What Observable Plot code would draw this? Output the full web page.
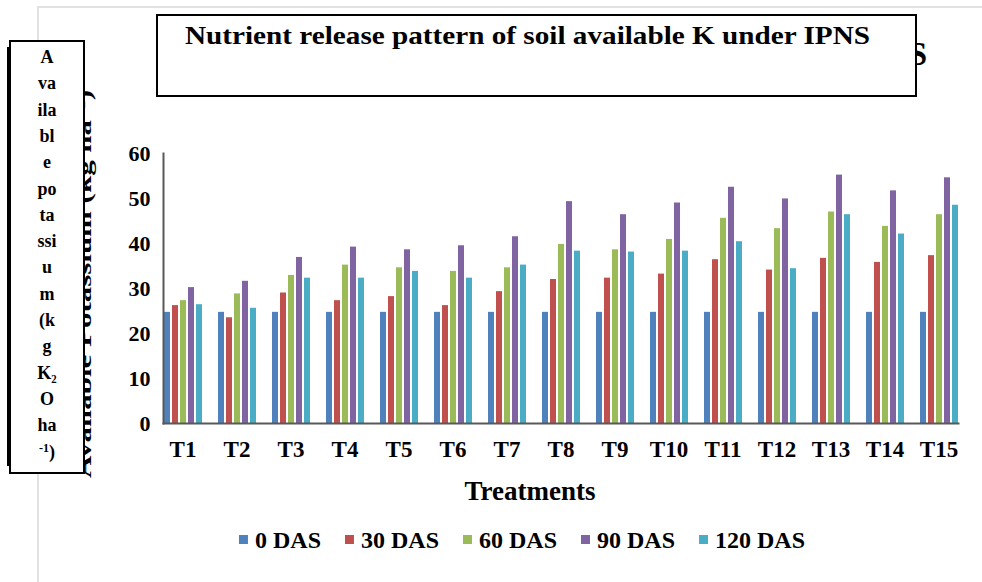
<!DOCTYPE html>
<html><head><meta charset="utf-8">
<script src="https://cdn.jsdelivr.net/npm/d3@7"></script>
<script src="https://cdn.jsdelivr.net/npm/@observablehq/plot@0.6"></script>
<style>
body{margin:0;background:#fff;}
#wrap{position:relative;width:982px;height:582px;overflow:hidden;background:#fff;}
#chart{position:absolute;left:0;top:0;}
#overlay{position:absolute;left:0;top:0;pointer-events:none;}
</style></head><body>
<div id="wrap"><div id="chart"></div><svg id="overlay" width="982" height="582"></svg></div>
<script>
const treatments = ["T1","T2","T3","T4","T5","T6","T7","T8","T9","T10","T11","T12","T13","T14","T15"];
const series = ["0 DAS","30 DAS","60 DAS","90 DAS","120 DAS"];
const das0   = [24.7,24.7,24.7,24.7,24.7,24.7,24.7,24.7,24.7,24.7,24.7,24.7,24.7,24.7,24.7];
const das30  = [26.2,23.5,29.0,27.3,28.2,26.2,29.3,32.0,32.3,33.2,36.4,34.1,36.7,35.8,37.3];
const das60  = [27.3,28.8,32.9,35.2,34.6,33.8,34.6,39.8,38.6,40.9,45.6,43.3,47.0,43.8,46.4];
const das90  = [30.2,31.6,36.9,39.2,38.6,39.5,41.5,49.3,46.4,49.0,52.5,49.9,55.2,51.7,54.6];
const das120 = [26.4,25.6,32.3,32.3,33.8,32.3,35.2,38.3,38.1,38.3,40.4,34.4,46.4,42.1,48.5];
const yTicks = [0,10,20,30,40,50,60];
const colors = ["#4F81BD","#C0504D","#9BBB59","#8064A2","#4BACC6"];
const titleText = "Nutrient release pattern of soil available K under IPNS";
const xLabel = "Treatments";
const yLabelLines = ["A","va","ila","bl","e","po","ta","ssi","u","m","(k","g","K\u2082","O","ha"];
const ghostYLabel = "Available Potassium (kg ha\u207B\u00B9)";

const values = [das0, das30, das60, das90, das120];
const data = treatments.flatMap((t, i) => series.map((s, j) => ({treatment: t, series: s, value: values[j][i]})));
const FONT = "Liberation Serif";

const chart = Plot.plot({
  width: 982, height: 510,
  marginTop: 153, marginBottom: 87, marginLeft: 155, marginRight: 16,
  style: {background: "transparent", fontFamily: FONT, color: "#000"},
  fx: {domain: treatments, paddingInner: 0.27, paddingOuter: 0.135, label: null},
  x: {domain: series, paddingInner: 0.25, paddingOuter: 0, axis: null},
  y: {domain: [0, 60]},
  color: {domain: series, range: colors},
  marks: [
    Plot.barY(data, {fx: "treatment", x: "series", y: "value", fill: "series"}),
    Plot.frame({facet: "super", anchor: "bottom", stroke: "#595959", strokeWidth: 2}),
    Plot.frame({facet: "super", anchor: "left", stroke: "#595959", strokeWidth: 2}),
    Plot.axisY({ticks: yTicks, tickSize: 0, tickPadding: 13, label: null,
      fontSize: 22, fontWeight: "bold", fontFamily: FONT, fill: "#000"}),
    Plot.axisFx({anchor: "bottom", tickSize: 0, tickPadding: 17, label: null,
      fontSize: 23, fontWeight: "bold", fontFamily: FONT, fill: "#000"})
  ]
});
document.getElementById("chart").appendChild(chart);
d3.select(chart).selectAll("text").style("font-family", FONT).style("font-weight", "bold");

// overlay: page frame, boxes, labels, legend
const svg = d3.select("#overlay");
function txt(sel) { return sel.append("text").style("font-family", FONT).style("font-weight", "bold"); }
svg.append("path").attr("d", "M38,582V7H982").attr("fill", "none").attr("stroke", "#d9d9d9").attr("stroke-width", 1.5);

// ghost texts (partially hidden behind boxes)
txt(svg).attr("transform", "translate(91,478) rotate(-90)")
  .style("font-size", "21px").attr("textLength", 388).attr("lengthAdjust", "spacingAndGlyphs")
  .text(ghostYLabel);
txt(svg).attr("x", 927).attr("y", 65).attr("text-anchor", "end").style("font-size", "33px").text("IPNS");

// title box
svg.append("rect").attr("x", 157).attr("y", 15).attr("width", 759).attr("height", 81)
  .attr("fill", "#fff").attr("stroke", "#000").attr("stroke-width", 2);
txt(svg).attr("x", 185).attr("y", 44).style("font-size", "26px")
  .attr("textLength", 685).attr("lengthAdjust", "spacingAndGlyphs").text(titleText);

// y label box
svg.append("line").attr("x1", 8).attr("x2", 8).attr("y1", 47).attr("y2", 466).attr("stroke", "#000").attr("stroke-width", 2);
svg.append("rect").attr("x", 10).attr("y", 41).attr("width", 74).attr("height", 432)
  .attr("fill", "#fff").attr("stroke", "#000").attr("stroke-width", 2);
yLabelLines.forEach((l, i) => {
  txt(svg).attr("x", 47).attr("y", 63 + 26.3 * i).attr("text-anchor", "middle")
    .style("font-size", "18px").text(l);
});
const last = txt(svg).attr("x", 47).attr("y", 458).attr("text-anchor", "middle").style("font-size", "18px");
last.append("tspan").style("font-size", "12px").attr("dy", -6).text("-1");
last.append("tspan").attr("dy", 6).text(")");

// x axis label
txt(svg).attr("x", 530).attr("y", 500).attr("text-anchor", "middle").style("font-size", "27px").text(xLabel);

// legend
const lg = svg.append("g");
let cx = 0;
series.forEach((s, i) => {
  const g = lg.append("g").attr("transform", `translate(${cx},0)`);
  g.append("rect").attr("x", 0).attr("y", -5).attr("width", 9).attr("height", 9).attr("fill", colors[i]);
  const t = txt(g).attr("x", 16).attr("y", 8).style("font-size", "24px").text(s);
  cx += 16 + t.node().getComputedTextLength() + 24;
});
cx -= 24;
lg.attr("transform", `translate(${522 - cx / 2},540)`);
</script>
</body></html>
